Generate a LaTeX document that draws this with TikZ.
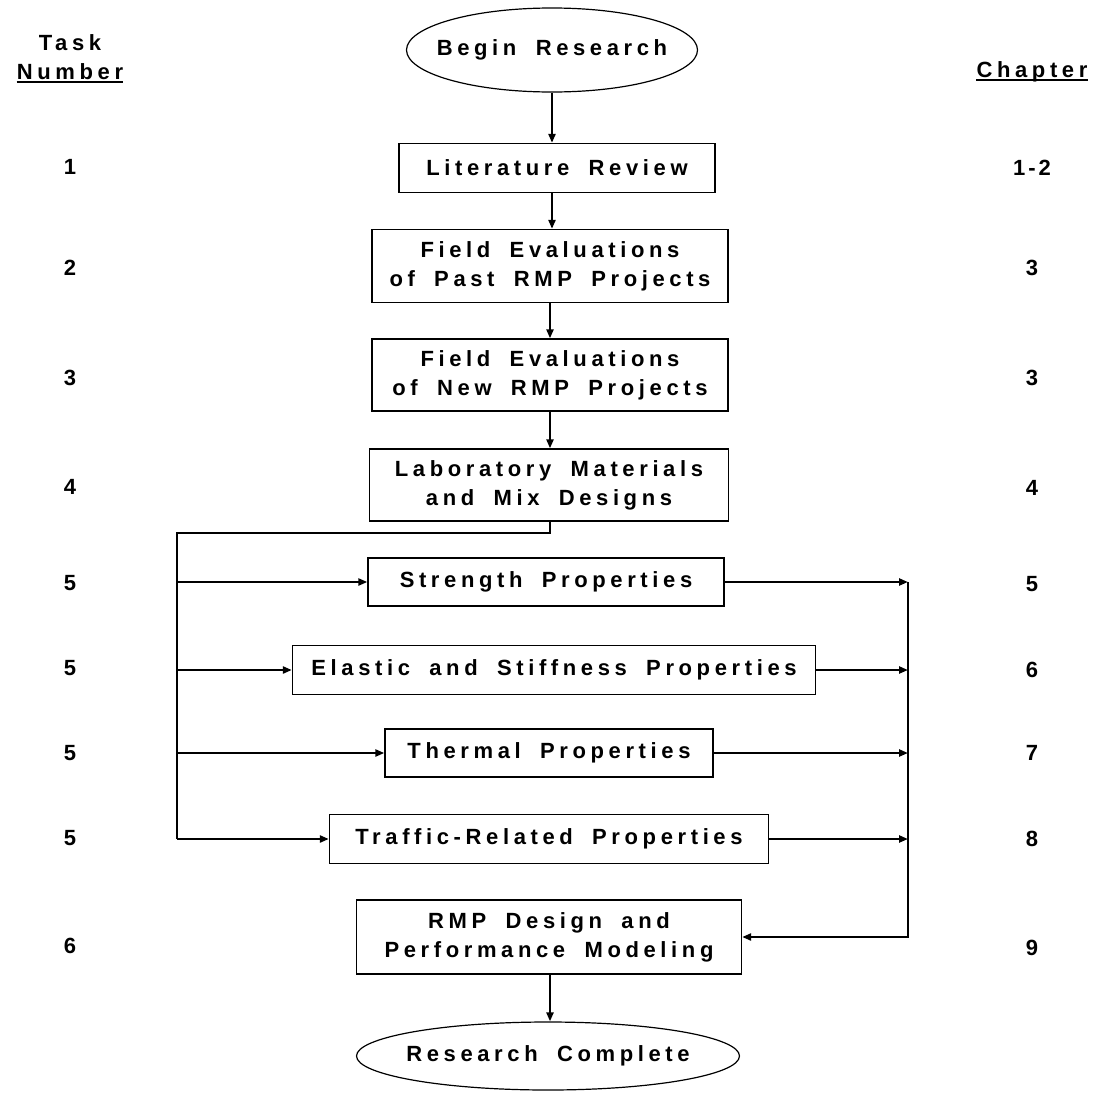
\documentclass[tikz,border=0pt]{standalone}
\usepackage{fontspec}
\setmainfont{Liberation Sans}[LetterSpace=21, WordSpace=1.8]
\usetikzlibrary{shapes.geometric,arrows.meta}
\begin{document}
\begin{tikzpicture}[x=1pt,y=-1pt,
  every node/.style={font=\fontsize{22}{29}\selectfont\bfseries, inner sep=0pt},
  procbox/.style={draw, line width=1.3pt, align=center},
  term/.style={draw, ellipse, line width=1.2pt, inner xsep=-20pt},
  lbl/.style={anchor=center},
  conn/.style={line width=2.4pt},
  arr/.style={conn, -{Triangle[length=9pt,width=7pt]}},
]
\useasboundingbox (0,0) rectangle (1101,1098);
% headers
\node[lbl] (task) at (70,43) {Task};
\node[lbl,anchor=base] (num) at (70,79) {Number};
\draw[line width=1.4pt] ([yshift=-3pt]num.base west) -- ([yshift=-3pt]num.base east);
\node[lbl,anchor=base] (chap) at (1032,77) {Chapter};
\draw[line width=1.4pt] ([yshift=-3pt]chap.base west) -- ([yshift=-3pt]chap.base east);
% flow nodes
\node[term, minimum width=291pt, minimum height=84pt] (begin) at (552,50) {Begin Research};
\node[procbox, minimum width=316pt, minimum height=49pt] (lit) at (557,168) {Literature Review};
\node[procbox, minimum width=356pt, minimum height=73pt] (past) at (550,266) {Field Evaluations\\of Past RMP Projects};
\node[procbox, minimum width=356pt, minimum height=72pt] (new) at (550,375) {Field Evaluations\\of New RMP Projects};
\node[procbox, minimum width=359pt, minimum height=72pt] (lab) at (549,485) {Laboratory Materials\\and Mix Designs};
\node[procbox, minimum width=356pt, minimum height=48pt] (str) at (546,582) {Strength Properties};
\node[procbox, minimum width=523pt, minimum height=49pt] (ela) at (554,670) {Elastic and Stiffness Properties};
\node[procbox, minimum width=328pt, minimum height=48pt] (the) at (549,753) {Thermal Properties};
\node[procbox, minimum width=439pt, minimum height=49pt] (tra) at (549,839) {Traffic-Related Properties};
\node[procbox, minimum width=385pt, minimum height=74pt] (rmp) at (549,937) {RMP Design and\\Performance Modeling};
\node[term, minimum width=383pt, minimum height=68pt] (end) at (548,1056) {Research Complete};
% task numbers
\node[lbl] (t1) at (70,167) {1};
\node[lbl] (t2) at (70,268) {2};
\node[lbl] (t3) at (70,378) {3};
\node[lbl] (t4) at (70,487) {4};
\node[lbl] (t5a) at (70,583) {5};
\node[lbl] (t5b) at (70,668) {5};
\node[lbl] (t5c) at (70,753) {5};
\node[lbl] (t5d) at (70,838) {5};
\node[lbl] (t6) at (70,946) {6};
% chapters
\node[lbl] (c1) at (1032,168) {1\kern3pt-\kern3pt2};
\node[lbl] (c2) at (1032,268) {3};
\node[lbl] (c3) at (1032,378) {3};
\node[lbl] (c4) at (1032,488) {4};
\node[lbl] (c5) at (1032,584) {5};
\node[lbl] (c6) at (1032,670) {6};
\node[lbl] (c7) at (1032,753) {7};
\node[lbl] (c8) at (1032,839) {8};
\node[lbl] (c9) at (1032,948) {9};
% bus coordinates
\coordinate (ltop) at (177,533);
\coordinate (rbus) at (908,584);
% vertical flow
\draw[arr] (begin.south) -- (begin.south |- lit.north);
\draw[arr] (lit.south -| 552,0) -- (552,0 |- past.north);
\draw[arr] (past.south) -- (new.north);
\draw[arr] (new.south) -- (new.south |- lab.north);
% left bus
\draw[conn] (lab.south -| 550,0) |- (ltop) -- (ltop |- tra.west);
\draw[arr] (ltop |- str.west) -- (str.west);
\draw[arr] (ltop |- ela.west) -- (ela.west);
\draw[arr] (ltop |- the.west) -- (the.west);
\draw[arr] (ltop |- tra.west) -- (tra.west);
% right bus
\draw[arr] (str.east) -- (rbus |- str.east);
\draw[arr] (ela.east) -- (rbus |- ela.east);
\draw[arr] (the.east) -- (rbus |- the.east);
\draw[arr] (tra.east) -- (rbus |- tra.east);
\draw[arr] (rbus |- str.east) |- (rmp.east);
\draw[arr] (rmp.south -| 550,0) -- (550,0 |- end.north);
\end{tikzpicture}
\end{document}
